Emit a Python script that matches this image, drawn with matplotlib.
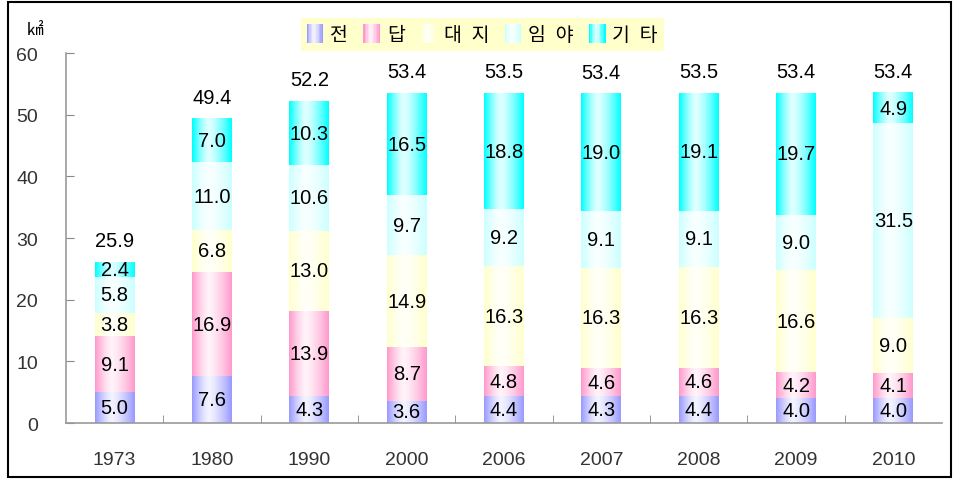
import numpy as np
import matplotlib
matplotlib.use('Agg')
import matplotlib.pyplot as plt
from matplotlib.patches import Rectangle
from matplotlib.legend_handler import HandlerBase

years = ['1973', '1980', '1990', '2000', '2006', '2007', '2008', '2009', '2010']
jeon = [5.0, 7.6, 4.3, 3.6, 4.4, 4.3, 4.4, 4.0, 4.0]
dap = [9.1, 16.9, 13.9, 8.7, 4.8, 4.6, 4.6, 4.2, 4.1]
daeji = [3.8, 6.8, 13.0, 14.9, 16.3, 16.3, 16.3, 16.6, 9.0]
imya = [5.8, 11.0, 10.6, 9.7, 9.2, 9.1, 9.1, 9.0, 31.5]
gita = [2.4, 7.0, 10.3, 16.5, 18.8, 19.0, 19.1, 19.7, 4.9]
totals = [25.9, 49.4, 52.2, 53.4, 53.5, 53.4, 53.5, 53.4, 53.4]

series = [jeon, dap, daeji, imya, gita]
names = ['전', '답', '대\u2002지', '임\u2002야', '기\u2002타']
edge_colors = [(0.6, 0.6, 1.0), (1.0, 0.6, 0.8), (1.0, 1.0, 0.8),
               (0.8, 1.0, 1.0), (0.0, 1.0, 1.0)]


def gradient(color, n=64):
    s = np.linspace(0, 1, n)
    c0 = 0.42
    t = np.where(s < c0, (c0 - s) / c0, (s - c0) / (1 - c0))
    mix = 0.12 + 0.88 * t ** 1.4
    c = np.array(color)
    rgb = 1 - mix[:, None] * (1 - c[None, :])
    return rgb


class GradHandler(HandlerBase):
    def __init__(self, color):
        super().__init__()
        self.color = color

    def create_artists(self, legend, orig_handle, xdescent, ydescent, width, height, fontsize, trans):
        g = gradient(self.color, 12)
        arts = []
        w = width / len(g)
        for i, c in enumerate(g):
            arts.append(Rectangle((-xdescent + i * w, -ydescent - 2), w * 1.05, height + 4,
                                  facecolor=c, edgecolor='none', transform=trans))
        return arts


fig = plt.figure(figsize=(9.55, 4.81), dpi=100)
ax = fig.add_axes([0.0691, 0.1185, 0.9173, 0.7692])

x = np.arange(len(years))
bw = 0.41
bottom = np.zeros(len(years))
for vals, col in zip(series, edge_colors):
    img = gradient(col)[None, :, :]
    for i, v in enumerate(vals):
        ax.imshow(img, extent=[x[i] - bw / 2, x[i] + bw / 2, bottom[i], bottom[i] + v],
                  aspect='auto', interpolation='bilinear', zorder=2)
        ax.text(x[i], bottom[i] + v / 2, f'{v:.1f}', ha='center', va='center',
                fontsize=14.5, family='Liberation Sans', zorder=3)
    bottom += np.array(vals)

for i, t in enumerate(totals):
    ax.text(x[i], bottom[i] + 2.0, f'{t:.1f}', ha='center', va='bottom',
            fontsize=14.5, family='Liberation Sans')

ax.set_xlim(-0.5, len(years) - 0.5)
ax.set_ylim(0, 60)
ax.set_yticks(range(0, 61, 10))
ax.set_xticks(x)
ax.set_xticklabels(years)
ax.set_xticks(np.arange(0.5, len(years) - 1, 1), minor=True)
ax.tick_params(axis='x', which='major', length=0, pad=20, labelsize=14, labelcolor='#333333')
ax.tick_params(axis='x', which='minor', direction='in', length=6, color='#888888')
ax.tick_params(axis='y', direction='in', length=6, color='#888888', pad=20,
               labelsize=14, labelcolor='#333333')
for lab in ax.get_xticklabels() + ax.get_yticklabels():
    lab.set_family('Liberation Sans')
for s in ['top', 'right']:
    ax.spines[s].set_visible(False)
for s in ['left', 'bottom']:
    ax.spines[s].set_color('#999999')
    ax.spines[s].set_linewidth(1.2)

fig.text(0.037, 0.937, '㎢', family=['Noto Sans CJK KR', 'DejaVu Sans'], fontsize=12,
         ha='center', va='center')

handles = [Rectangle((0, 0), 1, 1) for _ in names]
hmap = {h: GradHandler(c) for h, c in zip(handles, edge_colors)}
leg = fig.legend(handles, names, loc='center', bbox_to_anchor=(0.505, 0.926), ncol=5,
                 handler_map=hmap, frameon=True, fancybox=False, facecolor='#FFFFCC',
                 edgecolor='none', framealpha=1, handlelength=0.85, handletextpad=0.35,
                 columnspacing=0.8, borderpad=0.3,
                 prop={'family': ['Noto Sans CJK KR', 'DejaVu Sans'], 'size': 14})

fig.patches.append(Rectangle((8 / 955, 3 / 481), 943 / 955, 475 / 481, transform=fig.transFigure,
                             fill=False, edgecolor='black', linewidth=1.5))

plt.savefig('out.png', dpi=100)
